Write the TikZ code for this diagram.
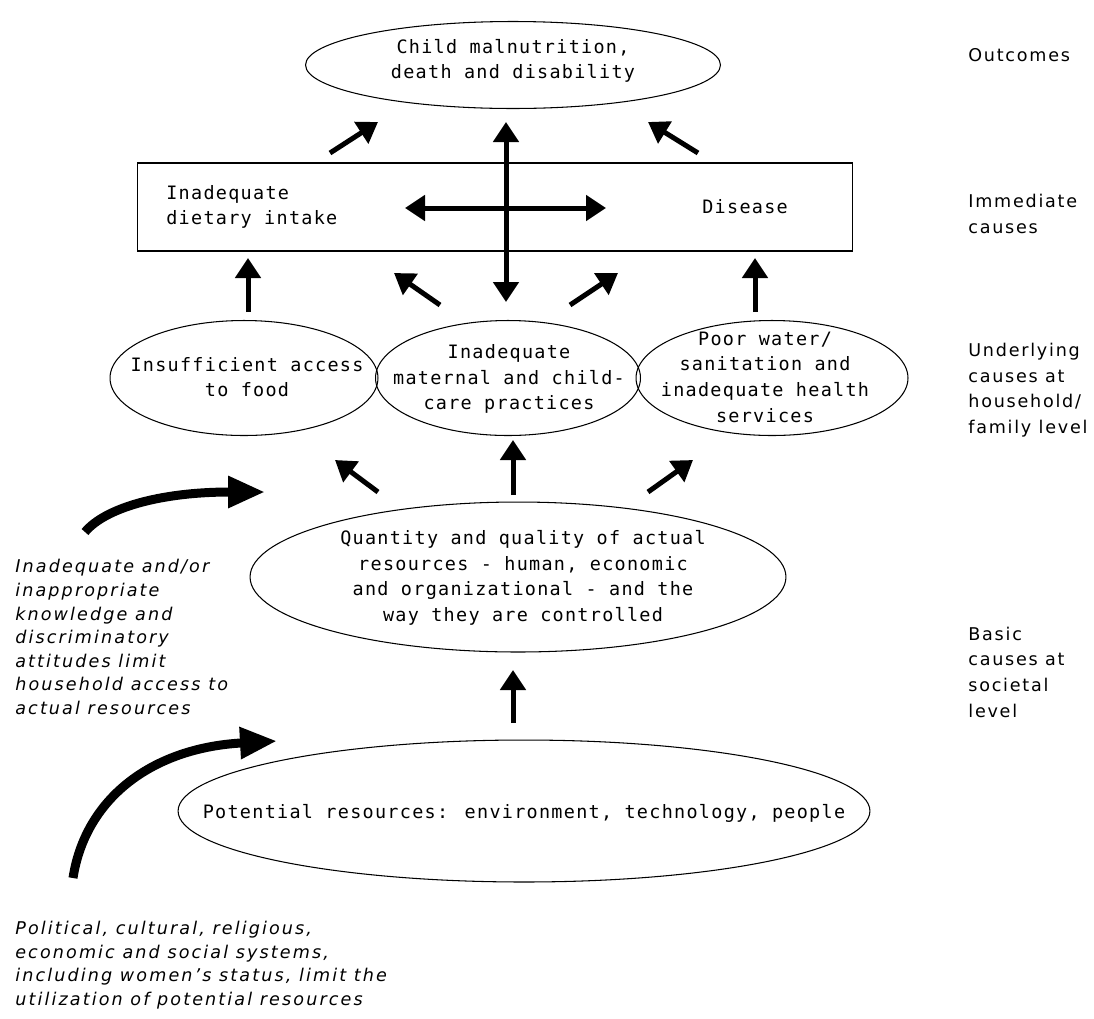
\documentclass[tikz,border=0pt]{standalone}
\usepackage{fontspec}
\setmainfont{DejaVu Sans}[LetterSpace=10]
\newfontfamily\pixfont{DejaVu Sans Mono}[LetterSpace=7]
\newfontfamily\slantfont{DejaVu Sans}[LetterSpace=12]
\usetikzlibrary{shapes.geometric,arrows.meta}
\tikzset{
  oval/.style={ellipse,draw,line width=0.6pt,inner sep=0pt},
  txt/.style={align=center,inner sep=0pt,font=\fontsize{10.5}{14.6}\pixfont},
  tag/.style={anchor=west,align=left,inner sep=0pt},
  note/.style={anchor=west,align=left,inner sep=0pt,font=\fontsize{10}{13.4}\slantfont\itshape},
  fat/.style={line width=0.1cm,-{Triangle[length=0.4cm,width=0.5cm]}},
  fatboth/.style={line width=0.1cm,{Triangle[length=0.4cm,width=0.5cm]}-{Triangle[length=0.4cm,width=0.5cm]}},
  swoop/.style={line width=0.18cm,-{Triangle[length=0.74cm,width=0.6cm]}}
}

\begin{document}
\begin{tikzpicture}[x=0.02cm,y=-0.02cm,font=\fontsize{10}{14.6}\selectfont]
\useasboundingbox (0,0) rectangle (1094,1018);
\node[oval,minimum width=8.3cm,minimum height=1.74cm] (child) at (513,65) {};
\node[txt] (childT) at (513,61) {Child malnutrition,\\death and disability};
\node[tag] (out) at (968,55) {Outcomes};
\node[draw,line width=0.6pt,minimum width=14.32cm,minimum height=1.76cm] (box) at (495,207) {};
\node[txt,anchor=west,align=left] (diet) at (166,207) {Inadequate\\dietary intake};
\node[txt,anchor=west] (dis) at (702,207) {Disease};
\node[tag] (imm) at (968,214) {Immediate\\causes};
\node[oval,minimum width=5.36cm,minimum height=2.3cm] (food) at (244,378) {};
\node[txt] (foodT) at (247,377) {Insufficient access\\to food};
\node[oval,minimum width=5.3cm,minimum height=2.3cm] (care) at (508,378) {};
\node[txt] (careT) at (509,379) {Inadequate\\maternal and child-\\care practices};
\node[oval,minimum width=5.44cm,minimum height=2.3cm] (water) at (772,378) {};
\node[txt] (waterT) at (765,377) {Poor water/\\sanitation and\\inadequate health\\services};
\node[tag] (under) at (968,390) {Underlying\\causes at\\household/\\family level};
\node[oval,minimum width=10.72cm,minimum height=3cm] (actual) at (518,577) {};
\node[txt] (actualT) at (523,578) {Quantity and quality of actual\\resources - human, economic\\and organizational - and the\\way they are controlled};
\node[tag] (basic) at (968,672) {Basic\\causes at\\societal\\level};
\node[oval,minimum width=13.84cm,minimum height=2.84cm] (pot) at (524,811) {};
\node[txt] (potT) at (524,813) {Potential resources: environment, technology, people};
\node[note] (know) at (15,637) {Inadequate and/or\\inappropriate\\knowledge and\\discriminatory\\attitudes limit\\household access to\\actual resources};
\node[note] (pol) at (15,965) {Political, cultural, religious,\\economic and social systems,\\including women’s status, limit the\\utilization of potential resources};
\coordinate (a1) at (330,153);
\coordinate (a1e) at (378,122);
\coordinate (a2) at (698,153);
\coordinate (a2e) at (648,122);
\coordinate (v1) at (506,122);
\coordinate (v2) at (506,302);
\coordinate (h1) at (405,208);
\coordinate (h2) at (606,208);
\coordinate (b1) at (248,312);
\coordinate (b1e) at (248,258);
\coordinate (b2) at (440,305);
\coordinate (b2e) at (394,273);
\coordinate (b3) at (570,305);
\coordinate (b3e) at (618,273);
\coordinate (b4) at (755,312);
\coordinate (b4e) at (755,258);
\coordinate (c1) at (378,492);
\coordinate (c1e) at (335,460);
\coordinate (c2) at (513,495);
\coordinate (c2e) at (513,440);
\coordinate (c3) at (648,492);
\coordinate (c3e) at (693,460);
\coordinate (d1) at (513,723);
\coordinate (d1e) at (513,670);
\coordinate (s1) at (85,532);
\coordinate (s1e) at (265,492);
\coordinate (s2) at (73,878);
\coordinate (s2e) at (277,741);
\draw[fat] (a1) -- (a1e);
\draw[fat] (a2) -- (a2e);
\draw[fatboth] (v1) -- (v2);
\draw[fatboth] (h1) -- (h2);
\draw[fat] (b1) -- (b1e);
\draw[fat] (b2) -- (b2e);
\draw[fat] (b3) -- (b3e);
\draw[fat] (b4) -- (b4e);
\draw[fat] (c1) -- (c1e);
\draw[fat] (c2) -- (c2e);
\draw[fat] (c3) -- (c3e);
\draw[fat] (d1) -- (d1e);
\draw[swoop] (s1) .. controls (105,508) and (160,492) .. (s1e);
\draw[swoop] (s2) .. controls (85,800) and (150,748) .. (s2e);
\end{tikzpicture}
\end{document}
